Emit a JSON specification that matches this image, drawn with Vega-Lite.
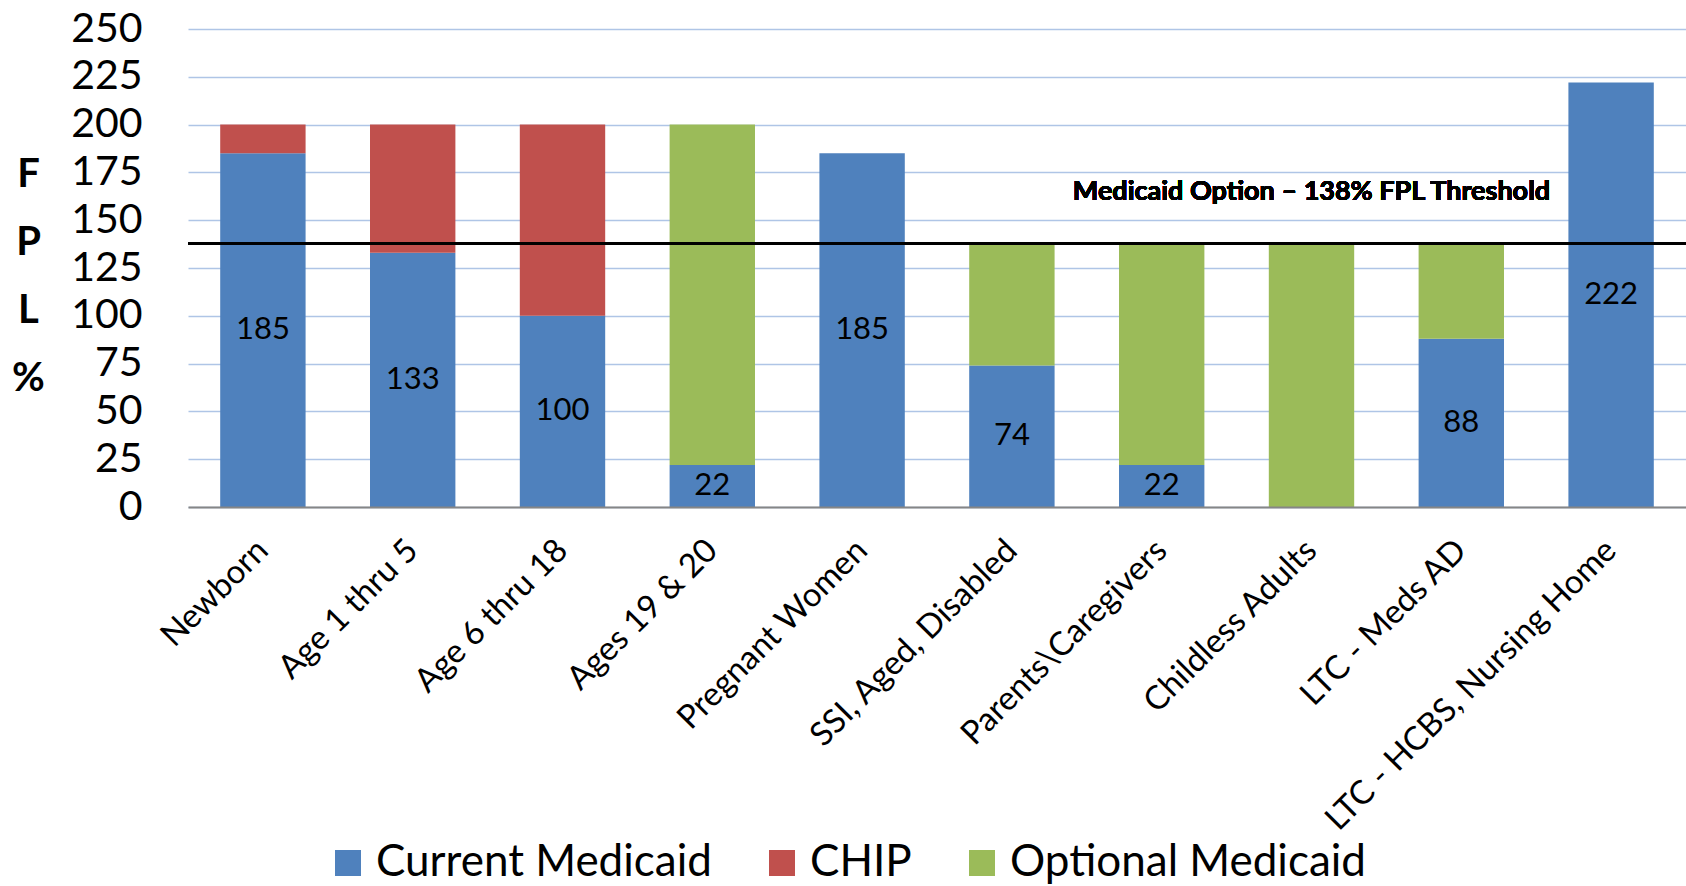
{
  "$schema": "https://vega.github.io/schema/vega-lite/v6.json",
  "width": 1498,
  "height": 478,
  "autosize": {"type": "none"},
  "padding": {"left": 188, "top": 29, "right": 0, "bottom": 379},
  "background": "white",
  "config": {"view": {"stroke": null}, "font": "Lato"},
  "data": {
    "values": [
      {"group": "Newborn", "series": "Current Medicaid", "value": 185, "rank": 1},
      {"group": "Newborn", "series": "CHIP", "value": 15, "rank": 2},
      {"group": "Age 1 thru 5", "series": "Current Medicaid", "value": 133, "rank": 1},
      {"group": "Age 1 thru 5", "series": "CHIP", "value": 67, "rank": 2},
      {"group": "Age 6 thru 18", "series": "Current Medicaid", "value": 100, "rank": 1},
      {"group": "Age 6 thru 18", "series": "CHIP", "value": 100, "rank": 2},
      {"group": "Ages 19 & 20", "series": "Current Medicaid", "value": 22, "rank": 1},
      {"group": "Ages 19 & 20", "series": "Optional Medicaid", "value": 178, "rank": 3},
      {"group": "Pregnant Women", "series": "Current Medicaid", "value": 185, "rank": 1},
      {"group": "SSI, Aged, Disabled", "series": "Current Medicaid", "value": 74, "rank": 1},
      {"group": "SSI, Aged, Disabled", "series": "Optional Medicaid", "value": 64, "rank": 3},
      {"group": "Parents\\Caregivers", "series": "Current Medicaid", "value": 22, "rank": 1},
      {"group": "Parents\\Caregivers", "series": "Optional Medicaid", "value": 116, "rank": 3},
      {"group": "Childless Adults", "series": "Optional Medicaid", "value": 138, "rank": 3},
      {"group": "LTC - Meds AD", "series": "Current Medicaid", "value": 88, "rank": 1},
      {"group": "LTC - Meds AD", "series": "Optional Medicaid", "value": 50, "rank": 3},
      {"group": "LTC - HCBS, Nursing Home", "series": "Current Medicaid", "value": 222, "rank": 1}
    ]
  },
  "resolve": {"scale": {"y": "independent"}},
  "layer": [
    {
      "mark": {"type": "bar"},
      "encoding": {
        "x": {
          "field": "group", "type": "nominal", "sort": null,
          "scale": {"paddingInner": 0.43, "paddingOuter": 0.215},
          "axis": {
            "title": null, "labelAngle": -45, "labelAlign": "right", "labelBaseline": "middle",
            "labelFontSize": 33, "labelColor": "black", "labelPadding": 38, "labelLimit": 0,
            "labelOverlap": false, "ticks": false, "domainColor": "#868686", "domainWidth": 2, "zindex": 1
          }
        },
        "y": {
          "field": "value", "type": "quantitative", "stack": "zero",
          "scale": {"domain": [0, 250]},
          "axis": {
            "values": [0, 25, 50, 75, 100, 125, 150, 175, 200, 225, 250],
            "title": ["F", "P", "L", "%"], "titleAngle": 0, "titleFontSize": 40, "titleFontWeight": "bold",
            "titleLineHeight": 68, "titleX": -160, "titleY": 145, "titleAlign": "center", "titleBaseline": "middle",
            "titleColor": "black",
            "labelFontSize": 41, "labelColor": "black", "labelPadding": 46,
            "ticks": false, "domain": false, "gridColor": "#AFC5E6", "gridWidth": 1.5
          }
        },
        "color": {
          "field": "series", "type": "nominal",
          "scale": {"domain": ["Current Medicaid", "CHIP", "Optional Medicaid"], "range": ["#4F81BD", "#C0504D", "#9BBB59"]},
          "legend": {
            "title": null, "orient": "none", "direction": "horizontal", "columns": 3,
            "legendX": 138, "legendY": 812, "symbolType": "square", "symbolSize": 676, "symbolStrokeWidth": 0,
            "labelFontSize": 44, "labelColor": "black", "labelOffset": 6, "columnPadding": 48, "labelLimit": 0
          }
        },
        "order": {"field": "rank", "type": "quantitative"}
      }
    },
    {
      "transform": [{"filter": "datum.series == 'Current Medicaid'"}],
      "mark": {"type": "text", "fontSize": 31, "color": "black", "baseline": "middle"},
      "encoding": {
        "x": {"field": "group", "type": "nominal", "sort": null},
        "y": {"field": "value", "type": "quantitative", "scale": {"domain": [0, 500]}, "axis": null},
        "text": {"field": "value", "type": "quantitative"}
      }
    },
    {
      "mark": {"type": "rule", "color": "black", "strokeWidth": 2.5},
      "encoding": {
        "y": {"datum": 138, "type": "quantitative", "scale": {"domain": [0, 250]}, "axis": null}
      }
    },
    {
      "mark": {"type": "text", "fontSize": 27, "fontWeight": "bold", "color": "black", "align": "center", "baseline": "middle"},
      "encoding": {
        "x": {"datum": "Childless Adults", "type": "nominal"},
        "y": {"datum": 165, "type": "quantitative", "scale": {"domain": [0, 250]}, "axis": null},
        "text": {"value": "Medicaid Option – 138% FPL Threshold"}
      }
    }
  ]
}
